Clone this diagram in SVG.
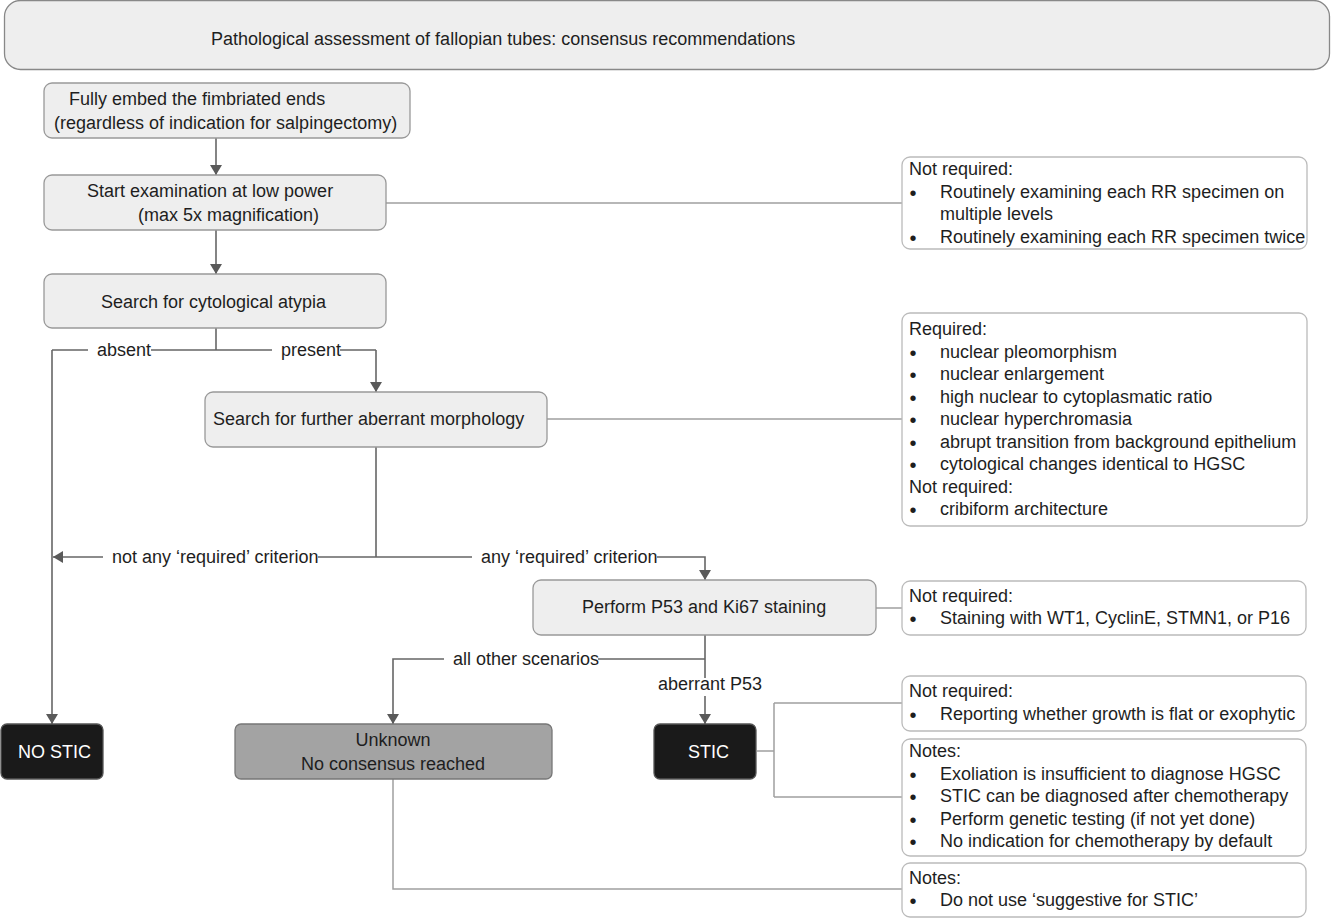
<svg xmlns="http://www.w3.org/2000/svg" width="1331" height="918" viewBox="0 0 1331 918">
<defs>
<style>
text{font-family:"Liberation Sans",Arial,sans-serif;font-size:18px;fill:#1e1e1e}
text.b{font-size:20px}
.main{fill:#eeeeee;stroke:#999;stroke-width:1.3}
.note{fill:#fff;stroke:#bbb;stroke-width:1.3}
.dark{fill:#1a1a1a;stroke:#555;stroke-width:1.3}
.gray{fill:#a3a3a3;stroke:#777;stroke-width:1.3}
.wt{fill:#fff}
.flow{fill:none;stroke:#666;stroke-width:1.6}
.side{fill:none;stroke:#a0a0a0;stroke-width:1.5}
</style>
<marker id="ah" viewBox="0 0 10 12" refX="10" refY="6" markerWidth="10" markerHeight="12" markerUnits="userSpaceOnUse" orient="auto">
<path d="M0,0 L10,6 L0,12 z" fill="#5a5a5a"/>
</marker>
</defs>
<rect width="1331" height="918" fill="#fff"/>

<g id="title">
<rect x="4.5" y="0.5" width="1325" height="69" rx="16" fill="#eeeeee" stroke="#888" stroke-width="1.3"/>
<text x="211" y="45">Pathological assessment of fallopian tubes: consensus recommendations</text>
</g>

<g id="connectors">
<path class="flow" d="M216,138 V175" marker-end="url(#ah)"/>
<path class="flow" d="M216,230 V274" marker-end="url(#ah)"/>
<path class="flow" d="M216,328 V350"/>
<path class="flow" d="M52,350 H88 M151,350 H272 M340,350 H376"/>
<path class="flow" d="M376,350 V392" marker-end="url(#ah)"/>
<path class="flow" d="M52,350 V724" marker-end="url(#ah)"/>
<path class="flow" d="M103,557 H53" marker-end="url(#ah)"/>
<path class="flow" d="M376,447 V557 M318,557 H472"/>
<path class="flow" d="M657,557 H705 V580" marker-end="url(#ah)"/>
<path class="flow" d="M705,635 V678 M705,659 H598"/>
<path class="flow" d="M444,659 H393 V724" marker-end="url(#ah)"/>
<path class="flow" d="M705,696 V724" marker-end="url(#ah)"/>
<path class="side" d="M386,203 H902 M547,419 H902 M876,608 H902 M757,751 H774 M774,703 V797 M774,703 H902 M774,797 H902 M393,779 V889 H902"/>
<text x="97" y="356">absent</text>
<text x="281" y="356">present</text>
<text x="112" y="563">not any ‘required’ criterion</text>
<text x="481" y="563">any ‘required’ criterion</text>
<text x="453" y="665">all other scenarios</text>
<text x="658" y="690">aberrant P53</text>
</g>

<g id="n-embed">
<rect class="main" x="44" y="83" width="366" height="55" rx="8"/>
<text x="69" y="105">Fully embed the fimbriated ends</text>
<text x="54" y="129">(regardless of indication for salpingectomy)</text>
</g>

<g id="n-lowpower">
<rect class="main" x="44" y="175" width="342" height="55" rx="8"/>
<text x="87" y="197">Start examination at low power</text>
<text x="138" y="221">(max 5x magnification)</text>
</g>

<g id="n-atypia">
<rect class="main" x="44" y="274" width="342" height="54" rx="8"/>
<text x="101" y="308">Search for cytological atypia</text>
</g>

<g id="n-morphology">
<rect class="main" x="205" y="392" width="342" height="55" rx="8"/>
<text x="213" y="425">Search for further aberrant morphology</text>
</g>

<g id="n-staining">
<rect class="main" x="533" y="580" width="343" height="55" rx="8"/>
<text x="582" y="613">Perform P53 and Ki67 staining</text>
</g>

<g id="n-nostic">
<rect class="dark" x="1" y="724" width="102" height="55" rx="6"/>
<text class="wt" x="18" y="758">NO STIC</text>
</g>

<g id="n-unknown">
<rect class="gray" x="235" y="724" width="317" height="55" rx="6"/>
<text x="393" y="746" text-anchor="middle">Unknown</text>
<text x="393" y="770" text-anchor="middle">No consensus reached</text>
</g>

<g id="n-stic">
<rect class="dark" x="654" y="724" width="102" height="55" rx="6"/>
<text class="wt" x="688" y="758">STIC</text>
</g>

<g id="note-lowpower">
<rect class="note" x="902" y="157" width="405" height="92" rx="8"/>
<text x="909" y="175">Not required:</text>
<text class="b" x="909.5" y="200">•</text><text x="940" y="198">Routinely examining each RR specimen on</text>
<text x="940" y="220">multiple levels</text>
<text class="b" x="909.5" y="245">•</text><text x="940" y="243">Routinely examining each RR specimen twice</text>
</g>

<g id="note-morphology">
<rect class="note" x="902" y="313" width="405" height="213" rx="8"/>
<text x="909" y="335">Required:</text>
<text class="b" x="909.5" y="360">•</text><text x="940" y="358">nuclear pleomorphism</text>
<text class="b" x="909.5" y="382">•</text><text x="940" y="380">nuclear enlargement</text>
<text class="b" x="909.5" y="405">•</text><text x="940" y="403">high nuclear to cytoplasmatic ratio</text>
<text class="b" x="909.5" y="427">•</text><text x="940" y="425">nuclear hyperchromasia</text>
<text class="b" x="909.5" y="450">•</text><text x="940" y="448">abrupt transition from background epithelium</text>
<text class="b" x="909.5" y="472">•</text><text x="940" y="470">cytological changes identical to HGSC</text>
<text x="909" y="493">Not required:</text>
<text class="b" x="909.5" y="517">•</text><text x="940" y="515">cribiform architecture</text>
</g>

<g id="note-staining">
<rect class="note" x="902" y="581" width="404" height="54" rx="8"/>
<text x="909" y="602">Not required:</text>
<text class="b" x="909.5" y="626">•</text><text x="940" y="624">Staining with WT1, CyclinE, STMN1, or P16</text>
</g>

<g id="note-stic-1">
<rect class="note" x="902" y="676" width="404" height="55" rx="8"/>
<text x="909" y="697">Not required:</text>
<text class="b" x="909.5" y="722">•</text><text x="940" y="720">Reporting whether growth is flat or exophytic</text>
</g>

<g id="note-stic-2">
<rect class="note" x="902" y="739" width="404" height="117" rx="8"/>
<text x="909" y="757">Notes:</text>
<text class="b" x="909.5" y="782">•</text><text x="940" y="780">Exoliation is insufficient to diagnose HGSC</text>
<text class="b" x="909.5" y="804">•</text><text x="940" y="802">STIC can be diagnosed after chemotherapy</text>
<text class="b" x="909.5" y="827">•</text><text x="940" y="825">Perform genetic testing (if not yet done)</text>
<text class="b" x="909.5" y="849">•</text><text x="940" y="847">No indication for chemotherapy by default</text>
</g>

<g id="note-unknown">
<rect class="note" x="902" y="863" width="404" height="54" rx="8"/>
<text x="909" y="884">Notes:</text>
<text class="b" x="909.5" y="908">•</text><text x="940" y="906">Do not use ‘suggestive for STIC’</text>
</g>
</svg>
